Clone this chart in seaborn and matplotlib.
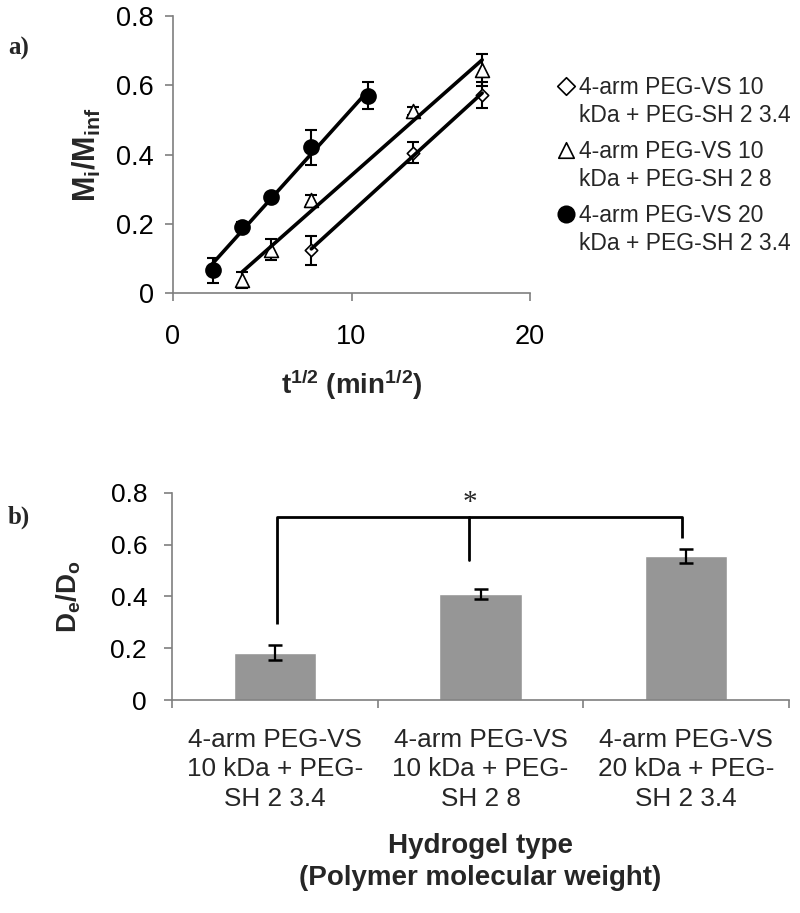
import numpy as np
import pandas as pd
import matplotlib
matplotlib.use("Agg")
import matplotlib.pyplot as plt
import seaborn as sns

# ---------------- data: panel a ----------------
x_vs10_34 = [7.75, 13.42, 17.32]
y_vs10_34 = [0.123, 0.405, 0.571]
e_vs10_34 = [0.042, 0.030, 0.037]

x_vs10_8 = [3.87, 5.48, 7.75, 13.42, 17.32]
y_vs10_8 = [0.038, 0.125, 0.268, 0.526, 0.644]
e_vs10_8 = [0.024, 0.030, 0.015, 0.012, 0.045]

x_vs20_34 = [2.24, 3.87, 5.48, 7.75, 10.95]
y_vs20_34 = [0.066, 0.192, 0.277, 0.421, 0.569]
e_vs20_34 = [0.036, 0.012, 0.012, 0.050, 0.039]

legend_labels = ["4-arm PEG-VS 10\nkDa + PEG-SH 2 3.4",
                 "4-arm PEG-VS 10\nkDa + PEG-SH 2 8",
                 "4-arm PEG-VS 20\nkDa + PEG-SH 2 3.4"]

# ---------------- data: panel b ----------------
categories = ["4-arm PEG-VS\n10 kDa + PEG-\nSH 2 3.4",
              "4-arm PEG-VS\n10 kDa + PEG-\nSH 2 8",
              "4-arm PEG-VS\n20 kDa + PEG-\nSH 2 3.4"]
de_do = [0.183, 0.409, 0.555]
de_do_err = [0.030, 0.018, 0.028]

y_ticks = [0, 0.2, 0.4, 0.6, 0.8]
y_ticklabels = ["0", "0.2", "0.4", "0.6", "0.8"]
x_ticks_a = [0, 10, 20]

# ---------------- style ----------------
sns.set_style("ticks")
plt.rcParams["font.family"] = ["Liberation Sans", "DejaVu Sans"]
plt.rcParams["mathtext.fontset"] = "custom"
plt.rcParams["mathtext.rm"] = "Liberation Sans"
plt.rcParams["mathtext.bf"] = "Liberation Sans:bold"
plt.rcParams["mathtext.it"] = "Liberation Sans:italic"

GREY = "#7f7f7f"
FS = 19.5

fig = plt.figure(figsize=(8, 9.13), dpi=100)
ax1 = fig.add_axes([173 / 800, 1 - 293 / 913, 357 / 800, 277 / 913])
ax2 = fig.add_axes([172 / 800, 1 - 700 / 913, 617 / 800, 207.3 / 913])

for ax in (ax1, ax2):
    sns.despine(ax=ax)
    for s in ("left", "bottom"):
        ax.spines[s].set_color(GREY)
        ax.spines[s].set_linewidth(1.2)
    ax.tick_params(axis="both", which="major", color=GREY, width=1.2, length=6,
                   direction="out", labelsize=FS, labelcolor="black")

# ---------------- panel a ----------------
series = [
    (x_vs10_34, y_vs10_34, e_vs10_34, "D", "white", 40, legend_labels[0]),
    (x_vs10_8, y_vs10_8, e_vs10_8, "^", "white", 100, legend_labels[1]),
    (x_vs20_34, y_vs20_34, e_vs20_34, "o", "black", 117, legend_labels[2]),
]
for xs, ys, es, mk, fc, sz, lab in series:
    ax1.errorbar(xs, ys, yerr=es, fmt="none", ecolor="black", elinewidth=1.5,
                 capsize=4.5, capthick=1.5, zorder=3)
    sns.scatterplot(x=xs, y=ys, ax=ax1, marker=mk, s=sz, facecolor=fc,
                    edgecolor="black", linewidth=1.2, zorder=4, label=lab)
    sns.regplot(x=np.array(xs), y=np.array(ys), ax=ax1, scatter=False, ci=None,
                color="black", line_kws={"lw": 2.6, "zorder": 5})

ax1.set_xlim(0, 20)
ax1.set_ylim(0, 0.8)
ax1.set_xticks(x_ticks_a)
ax1.set_xticklabels([str(v) for v in x_ticks_a])
ax1.set_yticks(y_ticks)
ax1.set_yticklabels(y_ticklabels)
ax1.tick_params(axis="x", pad=16)
ax1.tick_params(axis="y", pad=8)
ax1.set_xlabel(r"$\mathbf{t^{1/2}\ (min^{1/2})}$", fontsize=20, labelpad=13)
ax1.set_ylabel(r"$\mathbf{M_i/M_{inf}}$", fontsize=22, labelpad=9)

leg = ax1.legend(loc="upper left", bbox_to_anchor=(557 / 800, 1 - 76 / 913),
                 bbox_transform=fig.transFigure, frameon=False, fontsize=16.5,
                 borderaxespad=0, borderpad=0, handlelength=0.75,
                 handletextpad=0.2, labelspacing=0.55)
for t in leg.get_texts():
    t.set_linespacing(1.3)
for h, s in zip(leg.legend_handles, [80, 125, 140]):
    h.set_sizes([s])
for col in leg._legend_handle_box.get_children():
    for hp in col.get_children():
        hp.align = "top"

# ---------------- panel b ----------------
sns.barplot(x=categories, y=de_do, ax=ax2, color="#969696", saturation=1,
            width=0.4, errorbar=None, zorder=2)
bar_x = [p.get_x() + p.get_width() / 2 for p in ax2.patches]
ax2.errorbar(bar_x, de_do, yerr=de_do_err, fmt="none", ecolor="black",
             elinewidth=1.6, capsize=5, capthick=1.8, zorder=3)

ax2.set_xlim(-0.5, 2.5)
ax2.set_ylim(0, 0.8)
ax2.set_yticks(y_ticks)
ax2.set_yticklabels(y_ticklabels)
ax2.set_xticks([-0.5, 0.5, 1.5, 2.5])
ax2.set_xticklabels(["", "", "", ""])
ax2.set_xticks([0, 1, 2], minor=True)
ax2.set_xticklabels(categories, minor=True, fontsize=18.8, linespacing=1.3)
ax2.tick_params(axis="x", which="minor", length=0, pad=20)
ax2.tick_params(axis="y", pad=12, labelsize=19)
ax2.set_xlabel("Hydrogel type\n(Polymer molecular weight)", fontsize=20,
               fontweight="bold", linespacing=1.3, labelpad=16)
ax2.set_ylabel(r"$\mathbf{D_e/D_o}$", fontsize=20, labelpad=20)

# significance bracket
ax2.plot([0.01, 0.01, 1.98, 1.98], [0.293, 0.707, 0.707, 0.624], color="black",
         lw=2, solid_capstyle="butt", zorder=4)
ax2.plot([0.945, 0.945], [0.707, 0.54], color="black", lw=2, zorder=4)
ax2.text(0.948, 0.712, "*", ha="center", va="bottom", fontsize=21,
         family=["Liberation Serif"])

# panel letters
fig.text(8 / 800, 1 - 48 / 913, "a)", fontsize=18, fontweight="bold",
         family=["Liberation Serif"], va="center", ha="left")
fig.text(8 / 800, 1 - 517 / 913, "b)", fontsize=18, fontweight="bold",
         family=["Liberation Serif"], va="center", ha="left")

fig.savefig("out.png", dpi=100, facecolor="white")
